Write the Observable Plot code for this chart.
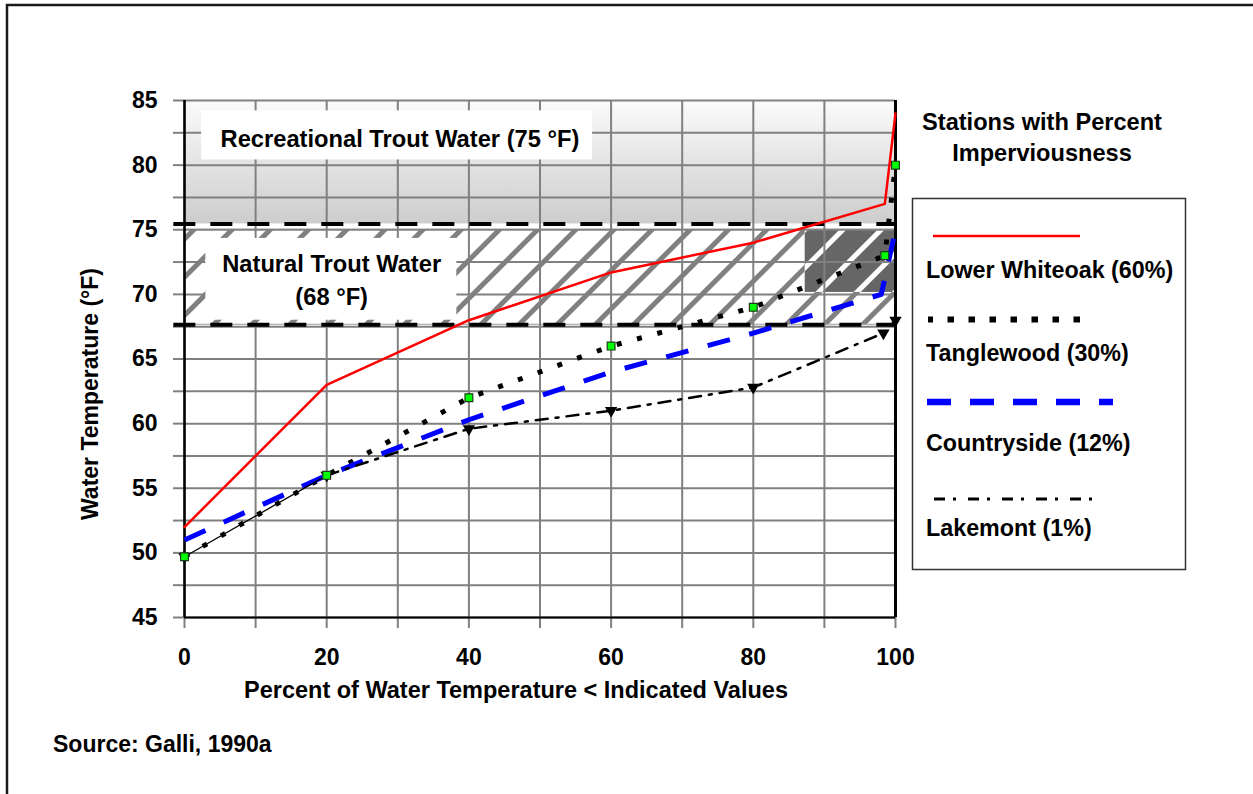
<!DOCTYPE html>
<html><head><meta charset="utf-8">
<script src="https://cdn.jsdelivr.net/npm/d3@7"></script>
<script src="https://cdn.jsdelivr.net/npm/@observablehq/plot@0.6"></script>
<style>
body{margin:0;background:#fff;}
#wrap{position:relative;width:1253px;height:794px;overflow:hidden;background:#fff;}
#wrap > svg{position:absolute;left:0;top:0;}
</style></head><body><div id="wrap"></div>
<script>
// ---- data ----
const seriesNames = ["Lower Whiteoak (60%)", "Tanglewood (30%)", "Countryside (12%)", "Lakemont (1%)"];
const whiteoakX = [0, 20, 40, 60, 80, 98.5, 100];
const whiteoakY = [52, 63, 68, 71.7, 74, 77, 84];
const tanglewoodX = [0, 20, 40, 60, 80, 98.5, 100];
const tanglewoodY = [49.7, 56, 62, 66, 69, 73, 80];
const countrysideX = [0, 20, 40, 60, 80, 98, 100];
const countrysideY = [51, 56, 60.3, 64, 67, 70, 75];
const lakemontX = [0, 20, 40, 60, 80, 98.3, 100];
const lakemontY = [49.7, 56, 59.6, 61, 62.8, 67, 68];
const xTicks = [0, 10, 20, 30, 40, 50, 60, 70, 80, 90, 100];
const xLabels = [0, 20, 40, 60, 80, 100];
const yGrid = [45, 47.5, 50, 52.5, 55, 57.5, 60, 62.5, 65, 67.5, 70, 72.5, 75, 77.5, 80, 82.5, 85];
const yLabels = [45, 50, 55, 60, 65, 70, 75, 80, 85];
const bandNames = ["Recreational Trout Water (75 °F)", "Natural Trout Water\n(68 °F)"];
const bandLow = [75.45, 67.65];
const bandHigh = [85, 75];
const legendTitle = ["Stations with Percent", "Imperviousness"];
const xTitle = "Percent of Water Temperature < Indicated Values";
const yTitle = "Water Temperature (°F)";
const source = "Source: Galli, 1990a";

// ---- derived tables ----
const xDomain = [0, 100], yDomain = [45, 85];
const toRows = (xs, ys) => xs.map((x, i) => ({x, y: ys[i]}));
const whiteoak = toRows(whiteoakX, whiteoakY);
const tanglewood = toRows(tanglewoodX, tanglewoodY);
const countryside = toRows(countrysideX, countrysideY);
const lakemont = toRows(lakemontX, lakemontY);
const rec = [{x1: xDomain[0], x2: xDomain[1], y1: bandLow[0], y2: bandHigh[0]}];
const nat = [{x1: xDomain[0], x2: xDomain[1], y1: bandLow[1], y2: bandHigh[1]}];
const darkPatch = [{x1: 87.3, x2: 100, y1: 70.15, y2: 75}];
const labelBoxes = [
  {text: bandNames[0], x1: 2.4, x2: 57.4, y1: 80.4, y2: 84.2, tx: 30.3, ty: 82.2},
  {text: bandNames[1], x1: 3, x2: 38.3, y1: 68.0, y2: 74.33, tx: 20.7, ty: 71.27}
];
const thresholds = bandLow;

const font = '"Liberation Sans", Arial, sans-serif';

const plot = Plot.plot({
  width: 1253, height: 794,
  marginLeft: 184, marginRight: 358, marginTop: 100, marginBottom: 177,
  x: {domain: xDomain},
  y: {domain: yDomain},
  style: {fontFamily: font, fontWeight: "bold", fontSize: "23px", color: "#000", background: "transparent"},
  marks: [
    Plot.rect(rec, {x1: "x1", x2: "x2", y1: "y1", y2: "y2", fill: "url(#recGrad)"}),
    Plot.rect(nat, {x1: "x1", x2: "x2", y1: "y1", y2: "y2", fill: "url(#hatch)", stroke: "#9a9a9a", strokeWidth: 1}),
    Plot.rect(darkPatch, {x1: "x1", x2: "x2", y1: "y1", y2: "y2", fill: "url(#hatchDark)"}),
    Plot.gridX(xTicks, {stroke: "#808080", strokeOpacity: 1, strokeWidth: 2}),
    Plot.gridY(yGrid, {stroke: "#808080", strokeOpacity: 1, strokeWidth: 2}),
    Plot.axisY(yGrid, {tickSize: 11, tickFormat: () => "", stroke: "#808080", strokeWidth: 2, label: null}),
    Plot.axisY(yLabels, {tickSize: 0, tickPadding: 27, fontSize: 23, fontWeight: "bold", label: null}),
    Plot.axisX(xTicks, {tickSize: 11, tickFormat: () => "", stroke: "#808080", strokeWidth: 2, label: null}),
    Plot.axisX(xLabels, {tickSize: 0, tickPadding: 31, fontSize: 23, fontWeight: "bold", label: null}),
    Plot.rect(labelBoxes, {x1: "x1", x2: "x2", y1: "y1", y2: "y2", fill: "white"}),
    Plot.text(labelBoxes, {x: "tx", y: "ty", text: "text", fontSize: 23.7, fontWeight: "bold", lineHeight: 1.4, fill: "#000"}),
    Plot.ruleY(thresholds, {x1: () => -1.5, x2: () => 100, stroke: "#000", strokeWidth: 4, strokeDasharray: "22,15"}),
    Plot.ruleX([xDomain[0]], {y1: () => 45, y2: () => 85, stroke: "#000", strokeWidth: 2.5}),
    Plot.ruleX([xDomain[1]], {y1: () => 45, y2: () => 85, stroke: "#000", strokeWidth: 3}),
    Plot.ruleY([yDomain[0]], {x1: () => 0, x2: () => 100, stroke: "#000", strokeWidth: 2}),
    Plot.line(whiteoak, {x: "x", y: "y", stroke: "#ff0000", strokeWidth: 2.5}),
    Plot.line(tanglewood, {x: "x", y: "y", stroke: "#000", strokeWidth: 5, strokeDasharray: "5,16", strokeLinecap: "butt", strokeLinejoin: "miter"}),
    Plot.line(countryside, {x: "x", y: "y", stroke: "#0000ff", strokeWidth: 5, strokeDasharray: "23,20", strokeLinecap: "butt"}),
    Plot.line(lakemont.filter(d => d.x <= 20), {x: "x", y: "y", stroke: "#000", strokeWidth: 1.3}),
    Plot.line(lakemont.filter(d => d.x >= 20), {x: "x", y: "y", stroke: "#000", strokeWidth: 2.5, strokeDasharray: "12,8,3,8"}),
    Plot.dot(lakemont, {x: "x", y: "y", symbol: "triangle", rotate: 180, r: 4.6, fill: "#000", stroke: "none"}),
    Plot.dot(tanglewood, {x: "x", y: "y", symbol: "square", r: 4.4, fill: "#00ff00", stroke: "#1b3d1b", strokeWidth: 1.2})
  ]
});

// defs: gradient & hatch patterns
const ps = d3.select(plot);
const defs = ps.insert("defs", ":first-child");
const g = defs.append("linearGradient").attr("id", "recGrad").attr("x1", 0).attr("y1", 0).attr("x2", 0).attr("y2", 1);
g.append("stop").attr("offset", 0).attr("stop-color", "#fbfbfb");
g.append("stop").attr("offset", 1).attr("stop-color", "#cdcdcd");
function hatch(id, bg, fg) {
  const p = defs.append("pattern").attr("id", id).attr("patternUnits", "userSpaceOnUse")
    .attr("width", 27).attr("height", 27).attr("patternTransform", "rotate(45)");
  p.append("rect").attr("width", 27).attr("height", 27).attr("fill", bg);
  p.append("rect").attr("x", 0).attr("width", 5).attr("height", 27).attr("fill", fg);
}
hatch("hatch", "#ffffff", "#808080");
hatch("hatchDark", "#666666", "#ffffff");

const wrap = document.getElementById("wrap");
wrap.appendChild(plot);

// ---- overlay: frame, titles, legend ----
const ov = d3.select(wrap).append("svg").attr("width", 1253).attr("height", 794)
  .style("pointer-events", "none").attr("font-family", font).attr("font-weight", "bold").attr("fill", "#000");
ov.append("path").attr("d", "M7,800V5H1260").attr("fill", "none").attr("stroke", "#1a1a1a").attr("stroke-width", 2.5);
ov.append("text").attr("x", 516).attr("y", 692).attr("text-anchor", "middle").attr("dominant-baseline", "middle")
  .attr("font-size", 23.5).text(xTitle);
ov.append("text").attr("transform", "translate(92,394) rotate(-90)").attr("text-anchor", "middle")
  .attr("dominant-baseline", "middle").attr("font-size", 23).text(yTitle);
ov.append("text").attr("x", 53).attr("y", 746).attr("dominant-baseline", "middle").attr("font-size", 23).text(source);

legendTitle.forEach((t, i) => ov.append("text").attr("x", 1042).attr("y", 124 + i * 31)
  .attr("text-anchor", "middle").attr("dominant-baseline", "middle").attr("font-size", 23.6).text(t));
ov.append("rect").attr("x", 912.5).attr("y", 198.5).attr("width", 273).attr("height", 371)
  .attr("fill", "none").attr("stroke", "#333").attr("stroke-width", 1.5);
const legendLines = [
  {x1: 933, x2: 1080, y: 236, stroke: "#ff0000", w: 2.5, dash: null, off: 0},
  {x1: 928, x2: 1080, y: 319.5, stroke: "#000", w: 6, dash: "6.5,14.5", off: 1.5},
  {x1: 927, x2: 1113, y: 402, stroke: "#0000ff", w: 6.5, dash: "24,19", off: 0},
  {x1: 934, x2: 1097, y: 499, stroke: "#000", w: 3.2, dash: "11,8,3,12", off: 0}
];
const legendTextY = [272, 355, 445, 530];
legendLines.forEach((l, i) => {
  const ln = ov.append("line").attr("x1", l.x1).attr("x2", l.x2).attr("y1", l.y).attr("y2", l.y)
    .attr("stroke", l.stroke).attr("stroke-width", l.w);
  if (l.dash) ln.attr("stroke-dasharray", l.dash).attr("stroke-dashoffset", l.off);
  ov.append("text").attr("x", 926).attr("y", legendTextY[i]).attr("dominant-baseline", "middle")
    .attr("font-size", 23.3).text(seriesNames[i]);
});
</script></body></html>
